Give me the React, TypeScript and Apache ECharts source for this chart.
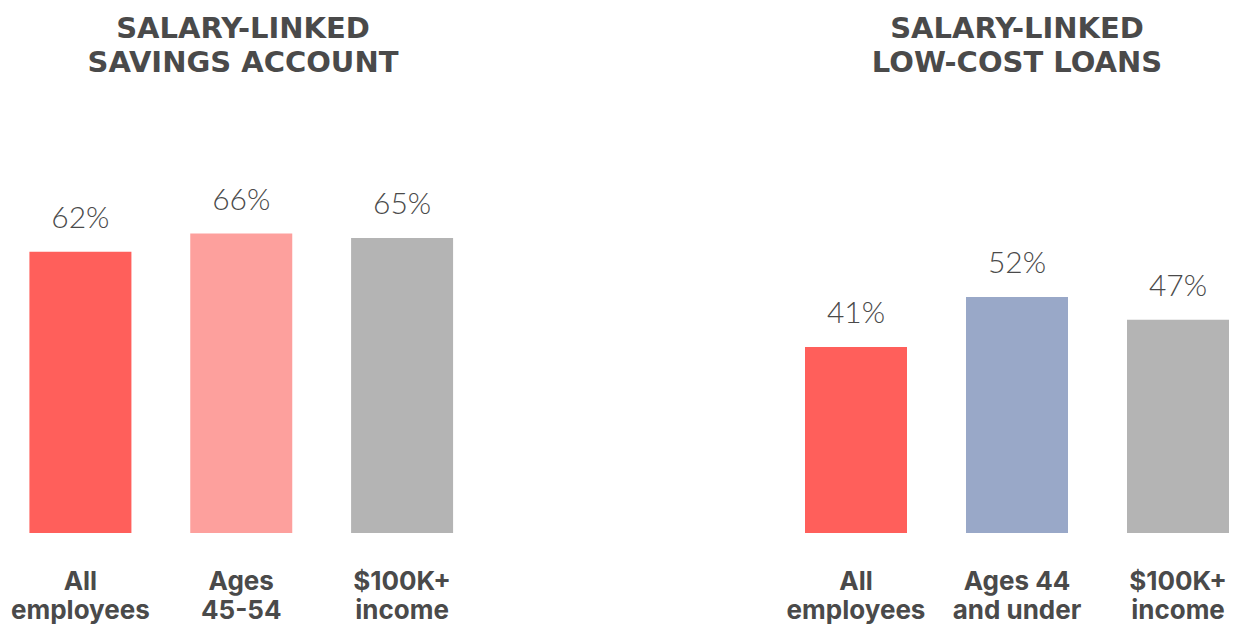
import React, { useEffect, useRef } from "react";
import * as echarts from "echarts";

const leftTitleLines = ["SALARY-LINKED", "SAVINGS ACCOUNT"];
const rightTitleLines = ["SALARY-LINKED", "LOW-COST LOANS"];
const leftCategories = ["All\nemployees", "Ages\n45-54", "$100K+\nincome"];
const rightCategories = ["All\nemployees", "Ages 44\nand under", "$100K+\nincome"];
const leftValues = [62, 66, 65];
const rightValues = [41, 52, 47];
const leftColors = ["#FF5F5B", "#FDA09D", "#B4B4B4"];
const rightColors = ["#FF5F5B", "#99A8C8", "#B4B4B4"];

const TEXT = "#4A4A4A";
const FONT = "Inter, 'Noto Sans', sans-serif";

export default function App() {
  const ref = useRef<HTMLDivElement>(null);
  useEffect(() => {
    document.body.style.margin = "0";
    document.body.style.overflow = "hidden";
    const chart = echarts.init(ref.current!, null, { renderer: "svg" });
    const gridTop = 79.3;
    const gridBottom = 91;
    const xAxisCommon = {
      type: "category" as const,
      axisLine: { show: false },
      axisTick: { show: false },
      axisLabel: {
        color: TEXT,
        fontFamily: FONT,
        fontWeight: "bold" as const,
        fontSize: 26,
        lineHeight: 29,
        margin: 33,
        interval: 0,
      },
    };
    const yAxisCommon = {
      type: "value" as const,
      min: 0,
      max: 100,
      show: false,
      splitLine: { show: false },
    };
    const labelCommon = {
      show: true,
      position: "top" as const,
      distance: 21,
      color: TEXT,
      fontFamily: "Lato, Roboto, sans-serif",
      fontWeight: 300 as any,
      fontSize: 30,
      formatter: "{c}%",
    };
    const titleStyle = {
      color: TEXT,
      fontFamily: "'DejaVu Sans', sans-serif",
      fontWeight: "bold" as const,
      fontSize: 29,
      lineHeight: 34,
    };
    const lineTops = [10.5, 44.5];
    const titles: any[] = [];
    leftTitleLines.forEach((t, i) =>
      titles.push({ text: t, left: 243, top: lineTops[i], padding: 0, textAlign: "center", textStyle: titleStyle })
    );
    rightTitleLines.forEach((t, i) =>
      titles.push({ text: t, left: 1017, top: lineTops[i], padding: 0, textAlign: "center", textStyle: titleStyle })
    );
    chart.setOption({
      animation: false,
      title: titles,
      grid: [
        { left: -0.5, width: 483, top: gridTop, bottom: gridBottom },
        { left: 775.5, width: 483, top: gridTop, bottom: gridBottom },
      ],
      xAxis: [
        { ...xAxisCommon, gridIndex: 0, data: leftCategories },
        { ...xAxisCommon, gridIndex: 1, data: rightCategories },
      ],
      yAxis: [
        { ...yAxisCommon, gridIndex: 0 },
        { ...yAxisCommon, gridIndex: 1 },
      ],
      series: [
        {
          type: "bar",
          xAxisIndex: 0,
          yAxisIndex: 0,
          barWidth: 102,
          data: leftValues.map((v, i) => ({ value: v, itemStyle: { color: leftColors[i] } })),
          label: labelCommon,
        },
        {
          type: "bar",
          xAxisIndex: 1,
          yAxisIndex: 1,
          barWidth: 102,
          data: rightValues.map((v, i) => ({ value: v, itemStyle: { color: rightColors[i] } })),
          label: labelCommon,
        },
      ],
    });
    return () => chart.dispose();
  }, []);
  return <div ref={ref} style={{ width: 1260, height: 624 }} />;
}
